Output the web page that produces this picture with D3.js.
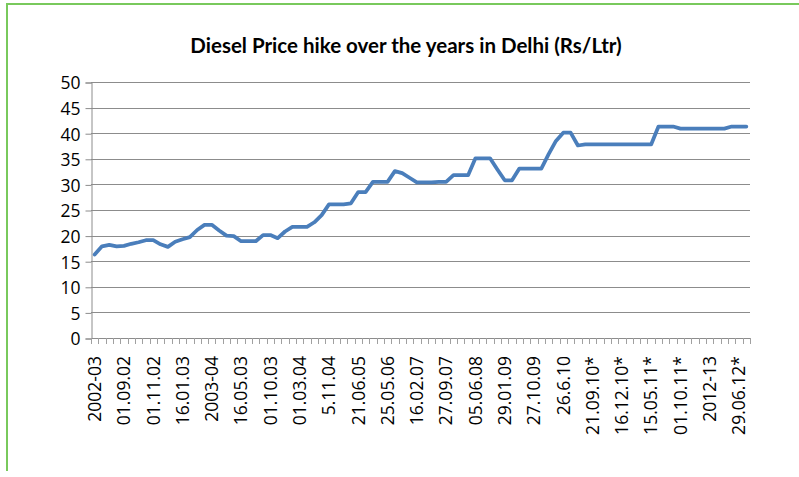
<!DOCTYPE html>
<html>
<head>
<meta charset="utf-8">
<script src="https://cdn.jsdelivr.net/npm/d3@7"></script>
<style>
  body { margin: 0; background: #fff; }
  svg { display: block; }
  .axis text { font-family: "Open Sans", sans-serif; font-size: 17.5px; fill: #000; }
</style>
</head>
<body>
<script>
// Diesel price in Delhi, one value per price revision (Rs/Ltr)
var prices = [
  16.3, 17.9, 18.2, 17.9, 18.0, 18.4, 18.7, 19.1, 19.1, 18.3,
  17.8, 18.8, 19.3, 19.7, 21.1, 22.1, 22.1, 21.0, 20.0, 19.9,
  18.9, 18.9, 18.9, 20.1, 20.1, 19.5, 20.8, 21.7, 21.7, 21.7,
  22.6, 24.0, 26.1, 26.1, 26.1, 26.3, 28.5, 28.5, 30.5, 30.5,
  30.5, 32.6, 32.2, 31.3, 30.4, 30.4, 30.4, 30.5, 30.5, 31.8,
  31.8, 31.8, 35.1, 35.1, 35.1, 32.9, 30.8, 30.8, 33.1, 33.1,
  33.1, 33.1, 35.9, 38.5, 40.1, 40.1, 37.6, 37.8, 37.8, 37.8,
  37.8, 37.8, 37.8, 37.8, 37.8, 37.8, 37.8, 41.3, 41.3, 41.3,
  40.9, 40.9, 40.9, 40.9, 40.9, 40.9, 40.9, 41.3, 41.3, 41.3
];

// only every 4th revision carries a label on the axis
var labels = [
  "2002-03", "01.09.02", "01.11.02", "16.01.03", "2003-04", "16.05.03",
  "01.10.03", "01.03.04", "5.11.04", "21.06.05", "25.05.06", "16.02.07",
  "27.09.07", "05.06.08", "29.01.09", "27.10.09", "26.6.10", "21.09.10*",
  "16.12.10*", "15.05.11*", "01.10.11*", "2012-13", "29.06.12*"
];
var labelStep = 4;

var yTicks = [0, 5, 10, 15, 20, 25, 30, 35, 40, 45, 50];

var title = "Diesel Price hike over the years in Delhi (Rs/Ltr)";

var W = 799, H = 477;
var plot = { left: 91, right: 750, top: 82, bottom: 338 };

var svg = d3.select("body").append("svg")
  .attr("width", W)
  .attr("height", H);

// green chart frame (only left and top edges fall inside the picture)
svg.append("path")
  .attr("d", "M7,471 L7,4 L799,4")
  .attr("fill", "none")
  .attr("stroke", "#79c95c")
  .attr("stroke-width", 2);

svg.append("text")
  .attr("x", 406)
  .attr("y", 53)
  .attr("text-anchor", "middle")
  .style("font-family", "Lato, sans-serif")
  .style("font-weight", "bold")
  .style("font-size", "20.5px")
  .text(title);

var x = d3.scaleBand()
  .domain(d3.range(prices.length))
  .range([plot.left, plot.right])
  .padding(0);

var y = d3.scaleLinear()
  .domain([0, 50])
  .range([plot.bottom, plot.top]);

// horizontal gridlines
svg.append("g").selectAll("line")
  .data(yTicks.filter(function (d) { return d > 0; }))
  .join("line")
  .attr("x1", plot.left)
  .attr("x2", plot.right)
  .attr("y1", function (d) { return Math.round(y(d)) + 0.5; })
  .attr("y2", function (d) { return Math.round(y(d)) + 0.5; })
  .attr("stroke", "#8c8c8c")
  .attr("stroke-width", 1);

// y axis
var yAxis = svg.append("g")
  .attr("class", "axis")
  .attr("transform", "translate(" + (plot.left + 0.5) + ",0.5)")
  .call(d3.axisLeft(y).tickValues(yTicks).tickSize(6).tickPadding(5));
yAxis.select(".domain").attr("stroke", "#8c8c8c");
yAxis.selectAll(".tick line").attr("stroke", "#8c8c8c");
yAxis.selectAll(".tick text").attr("dy", "0.36em");

// x axis line and tick marks at every category boundary
var xg = svg.append("g");
xg.append("line")
  .attr("x1", plot.left)
  .attr("x2", plot.right)
  .attr("y1", plot.bottom + 0.5)
  .attr("y2", plot.bottom + 0.5)
  .attr("stroke", "#8c8c8c");
xg.selectAll("line.tk")
  .data(d3.range(prices.length + 1))
  .join("line")
  .attr("class", "tk")
  .attr("x1", function (d) { return Math.round(plot.left + d * x.bandwidth()) + 0.5; })
  .attr("x2", function (d) { return Math.round(plot.left + d * x.bandwidth()) + 0.5; })
  .attr("y1", plot.bottom)
  .attr("y2", plot.bottom + 6)
  .attr("stroke", "#a0a0a0");

// category labels, rotated
var labelIdx = d3.range(0, prices.length, labelStep);
var xAxis = svg.append("g")
  .attr("class", "axis")
  .attr("transform", "translate(0," + plot.bottom + ")")
  .call(d3.axisBottom(x)
    .tickValues(labelIdx)
    .tickSize(0)
    .tickFormat(function (d) { return labels[d / labelStep]; }));
xAxis.select(".domain").remove();
xAxis.selectAll(".tick text")
  .attr("transform", "rotate(-90)")
  .attr("text-anchor", "end")
  .attr("x", -18)
  .attr("y", 0)
  .attr("dy", "0.36em");

// price line
var line = d3.line()
  .x(function (d, i) { return x(i) + x.bandwidth() / 2; })
  .y(function (d) { return y(d); });

svg.append("path")
  .datum(prices)
  .attr("d", line)
  .attr("fill", "none")
  .attr("stroke", "#4a7ebb")
  .attr("stroke-width", 3.75)
  .attr("stroke-linejoin", "round")
  .attr("stroke-linecap", "round");
</script>
</body>
</html>
